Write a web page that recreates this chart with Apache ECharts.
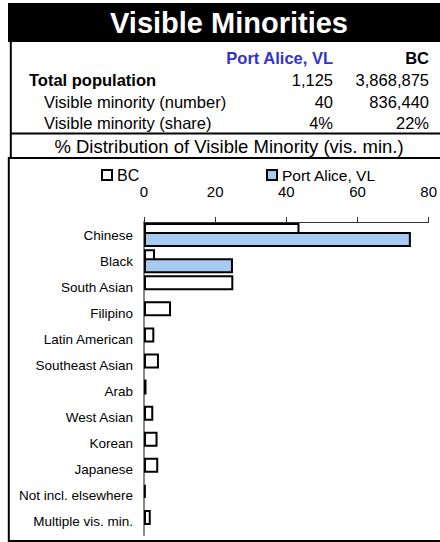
<!DOCTYPE html>
<html>
<head>
<meta charset="utf-8">
<script src="https://cdn.jsdelivr.net/npm/echarts@6/dist/echarts.min.js"></script>
<style>
html,body{margin:0;padding:0;background:#fff;}
#chart{width:440px;height:542px;}
</style>
</head>
<body>
<div id="chart"></div>
<script>
// ---- data ----
const categories = ['Chinese','Black','South Asian','Filipino','Latin American','Southeast Asian','Arab','West Asian','Korean','Japanese','Not incl. elsewhere','Multiple vis. min.'];
const bcValues = [43.7, 3.1, 25.1, 7.6, 2.9, 4.2, 0.7, 2.6, 3.8, 4.0, 0.5, 1.9];
const portAliceValues = [75, 25, 0, 0, 0, 0, 0, 0, 0, 0, 0, 0];
const seriesNames = ['BC', 'Port Alice, VL'];
const axisTicks = [0, 20, 40, 60, 80];

const tableHeader = ['Port Alice, VL', 'BC'];
const tableRows = [
  {label: 'Total population', bold: true, values: ['1,125', '3,868,875']},
  {label: 'Visible minority (number)', bold: false, values: ['40', '836,440']},
  {label: 'Visible minority (share)', bold: false, values: ['4%', '22%']}
];
const titleText = 'Visible Minorities';
const subtitleText = '% Distribution of Visible Minority (vis. min.)';

// ---- chart ----
const FONT = '"Liberation Sans", Arial, Helvetica, sans-serif';
const chart = echarts.init(document.getElementById('chart'), null, {renderer: 'svg'});

const graphics = [];
graphics.push({type:'rect', shape:{x:8, y:3, width:432, height:39}, style:{fill:'#000'}, silent:true});
graphics.push({type:'text', x:229, y:23, style:{text:titleText, fill:'#fff', font:'bold 29px ' + FONT, textAlign:'center', textVerticalAlign:'middle'}});
// table frame
graphics.push({type:'line', shape:{x1:10.8, y1:42, x2:10.8, y2:158}, style:{stroke:'#000', lineWidth:2}});
graphics.push({type:'line', shape:{x1:10, y1:133.5, x2:440, y2:133.5}, style:{stroke:'#000', lineWidth:2}});
graphics.push({type:'line', shape:{x1:8, y1:158, x2:440, y2:158}, style:{stroke:'#000', lineWidth:2}});
graphics.push({type:'line', shape:{x1:8.8, y1:157, x2:8.8, y2:542}, style:{stroke:'#000', lineWidth:2}});
graphics.push({type:'line', shape:{x1:8, y1:541, x2:440, y2:541}, style:{stroke:'#000', lineWidth:2}});
// table header
const colRight = [333, 429];
graphics.push({type:'text', x:colRight[0], y:58, style:{text:tableHeader[0], fill:'#3333cc', font:'bold 16.5px ' + FONT, textAlign:'right', textVerticalAlign:'middle'}});
graphics.push({type:'text', x:colRight[1], y:58, style:{text:tableHeader[1], fill:'#000', font:'bold 16.5px ' + FONT, textAlign:'right', textVerticalAlign:'middle'}});
const rowY = [80, 101.5, 122.5];
tableRows.forEach((r, i) => {
  graphics.push({type:'text', x: r.bold ? 29 : 44, y: rowY[i], style:{text:r.label, fill:'#000', font:(r.bold ? 'bold ' : '') + '16.5px ' + FONT, textAlign:'left', textVerticalAlign:'middle'}});
  r.values.forEach((v, j) => {
    graphics.push({type:'text', x: colRight[j], y: rowY[i], style:{text:v, fill:'#000', font:'16.5px ' + FONT, textAlign:'right', textVerticalAlign:'middle'}});
  });
});
graphics.push({type:'text', x:229, y:146, style:{text:subtitleText, fill:'#000', font:'18.5px ' + FONT, textAlign:'center', textVerticalAlign:'middle'}});

const option = {
  animation: false,
  backgroundColor: '#fff',
  textStyle: {fontFamily: FONT},
  graphic: graphics,
  legend: [
    {data:[seriesNames[0]], left:101, top:167, padding:0, itemWidth:10, itemHeight:10, icon:'rect',
     textStyle:{fontSize:16, color:'#000', fontFamily:FONT}},
    {data:[seriesNames[1]], left:266, top:167, padding:0, itemWidth:10, itemHeight:10, icon:'rect',
     textStyle:{fontSize:15.5, color:'#000', fontFamily:FONT}}
  ],
  grid: {left:144, right:10, top:222, bottom:7, containLabel:false},
  xAxis: {
    type:'value', position:'top', min:axisTicks[0], max:axisTicks[axisTicks.length-1], interval:20,
    axisLine:{show:true, lineStyle:{color:'#333', width:1}},
    axisTick:{show:true, length:5, lineStyle:{color:'#333'}},
    splitLine:{show:false},
    axisLabel:{fontSize:15, color:'#000', margin:23, fontFamily:FONT}
  },
  yAxis: {
    type:'category', data:categories, inverse:true,
    axisLine:{show:true, lineStyle:{color:'#888', width:2}},
    axisTick:{show:false},
    axisLabel:{fontSize:13.5, color:'#000', margin:11, fontFamily:FONT}
  },
  series: [
    {name:seriesNames[0], type:'bar', data:bcValues, barWidth:15, barGap:'-40%',
     itemStyle:{color:'#fff', borderColor:'#000', borderWidth:2}},
    {name:seriesNames[1], type:'bar', data:portAliceValues.map(v => v === 0 ? null : v), barWidth:15, barGap:'-40%',
     itemStyle:{color:'#a6caf0', borderColor:'#000', borderWidth:2}}
  ]
};
chart.setOption(option);
</script>
</body>
</html>
